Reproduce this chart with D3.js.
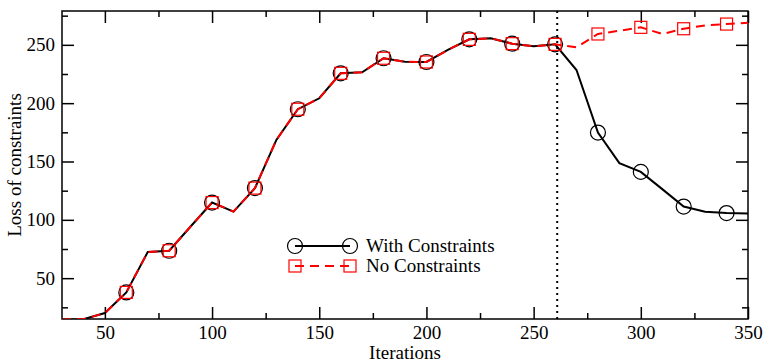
<!DOCTYPE html>
<html>
<head>
<meta charset="utf-8">
<script src="https://cdn.jsdelivr.net/npm/d3@7"></script>
<style>
  body { margin: 0; background: #fff; }
  text { font-family: "Liberation Serif", "Times New Roman", serif; }
</style>
</head>
<body>
<div id="chart"></div>
<script>
const iterations = [30, 40, 50, 60, 70, 80, 90, 100, 110, 120, 130, 140, 150, 160, 170, 180, 190, 200,
  210, 220, 230, 240, 250, 260, 270, 280, 290, 300, 310, 320, 330, 340, 350];
const withConstraints = [14.6, 14.8, 20.1, 37.8, 72.4, 73.5, 94.3, 114.8, 107.1, 127.2, 168.5, 194.8, 204.2,
  225.6, 226.5, 238.5, 235.5, 235.3, 245.6, 254.7, 255.6, 251, 248.7, 250.4, 228.4, 174.8, 148.6, 141.1,
  126.3, 111.4, 106.9, 105.8, 105.4];
const noConstraints = [14.6, 14.8, 20.1, 37.8, 72.4, 73.5, 94.3, 114.8, 107.1, 127.2, 168.5, 194.8, 204.2,
  225.6, 226.5, 238.5, 235.5, 235.3, 245.6, 254.7, 255.6, 251, 248.7, 250.4, 247.9, 259.3, 262.1, 265,
  259.3, 263.8, 266.7, 267.8, 269];
const seriesNames = ['With Constraints', 'No Constraints'];
const xTicks = [50, 100, 150, 200, 250, 300, 350];
const xMinorTicks = [75, 125, 175, 225, 275, 325];
const yTicks = [50, 100, 150, 200, 250];
const yMinorTicks = [25, 75, 125, 175, 225, 275];
const markerStep = 20;
const switchIteration = 261;

const containerWidth = 765, containerHeight = 363;
const margin = { top: 11, right: 17, bottom: 44, left: 62 };
const width = containerWidth - margin.left - margin.right;
const height = containerHeight - margin.top - margin.bottom;
const fontSize = 19;

const svg = d3.select('#chart').append('svg')
  .attr('width', containerWidth)
  .attr('height', containerHeight);

const chart = svg.append('g').attr('transform', `translate(${margin.left}, ${margin.top})`);

const xScale = d3.scaleLinear().domain([30, 350]).range([0, width]);
const yScale = d3.scaleLinear().domain([15, 279]).range([height, 0]);

chart.append('clipPath').attr('id', 'plot-clip')
  .append('rect').attr('width', width).attr('height', height);

// axes: ticks point inward on all four sides
function styleAxis(g) {
  g.select('.domain').remove();
  g.selectAll('line').attr('stroke', '#000').attr('stroke-width', 1.5);
  g.selectAll('text').attr('font-size', fontSize).attr('fill', '#000')
    .style('font-family', '"Liberation Serif", serif');
}

chart.append('g').attr('transform', `translate(0, ${height})`)
  .call(d3.axisBottom(xScale).tickValues(xTicks).tickSize(-12).tickPadding(7).tickFormat(d3.format('d')))
  .call(styleAxis);
chart.append('g').attr('transform', `translate(0, ${height})`)
  .call(d3.axisBottom(xScale).tickValues(xMinorTicks).tickSize(-6).tickFormat(''))
  .call(styleAxis);
chart.append('g')
  .call(d3.axisTop(xScale).tickValues(xTicks).tickSize(-12).tickFormat(''))
  .call(styleAxis);
chart.append('g')
  .call(d3.axisTop(xScale).tickValues(xMinorTicks).tickSize(-6).tickFormat(''))
  .call(styleAxis);

chart.append('g')
  .call(d3.axisLeft(yScale).tickValues(yTicks).tickSize(-12).tickPadding(7).tickFormat(d3.format('d')))
  .call(styleAxis);
chart.append('g')
  .call(d3.axisLeft(yScale).tickValues(yMinorTicks).tickSize(-6).tickFormat(''))
  .call(styleAxis);
chart.append('g').attr('transform', `translate(${width}, 0)`)
  .call(d3.axisRight(yScale).tickValues(yTicks).tickSize(-12).tickFormat(''))
  .call(styleAxis);
chart.append('g').attr('transform', `translate(${width}, 0)`)
  .call(d3.axisRight(yScale).tickValues(yMinorTicks).tickSize(-6).tickFormat(''))
  .call(styleAxis);

chart.append('rect')
  .attr('width', width).attr('height', height)
  .attr('fill', 'none').attr('stroke', '#000').attr('stroke-width', 1.5);

// vertical dotted marker where the constraints kick in
chart.append('line')
  .attr('x1', xScale(switchIteration)).attr('x2', xScale(switchIteration))
  .attr('y1', 0).attr('y2', height)
  .attr('stroke', '#000').attr('stroke-width', 2)
  .attr('stroke-dasharray', '2,4');

const series = [
  { name: seriesNames[0], values: withConstraints, color: '#000', dash: null, symbol: 'circle' },
  { name: seriesNames[1], values: noConstraints, color: '#ff0000', dash: '9,6', symbol: 'square' }
];

const line = d3.line()
  .x(d => xScale(d.x))
  .y(d => yScale(d.y));

const plot = chart.append('g').attr('clip-path', 'url(#plot-clip)');

function drawSymbol(g, s, cx, cy) {
  if (s.symbol === 'circle') {
    g.append('circle').attr('cx', cx).attr('cy', cy).attr('r', 7.5)
      .attr('fill', 'none').attr('stroke', s.color).attr('stroke-width', 1.2);
  } else {
    g.append('rect').attr('x', cx - 6).attr('y', cy - 6).attr('width', 12).attr('height', 12)
      .attr('fill', 'none').attr('stroke', s.color).attr('stroke-width', 1.2);
  }
}

series.forEach(s => {
  const pts = iterations.map((x, i) => ({ x: x, y: s.values[i] }));
  plot.append('path')
    .datum(pts)
    .attr('fill', 'none')
    .attr('stroke', s.color)
    .attr('stroke-width', 2)
    .attr('stroke-dasharray', s.dash)
    .attr('d', line);

  // symbols every 20 iterations, only where the point is inside the world
  const [yMin] = yScale.domain();
  pts.filter(d => d.x % markerStep === 0 && d.y >= yMin)
    .forEach(d => drawSymbol(chart, s, xScale(d.x), yScale(d.y)));
});

// legend
const legend = svg.append('g');
series.forEach((s, i) => {
  const y = 246 + i * 20;
  legend.append('line')
    .attr('x1', 295).attr('x2', 350).attr('y1', y).attr('y2', y)
    .attr('stroke', s.color).attr('stroke-width', 2)
    .attr('stroke-dasharray', s.dash);
  drawSymbol(legend, s, 295, y);
  drawSymbol(legend, s, 350, y);
  legend.append('text')
    .attr('x', 366).attr('y', y + 6)
    .attr('font-size', fontSize)
    .text(s.name);
});

// axis titles
svg.append('text')
  .attr('x', margin.left + width / 2)
  .attr('y', 359)
  .attr('text-anchor', 'middle')
  .attr('font-size', fontSize)
  .text('Iterations');

svg.append('text')
  .attr('transform', `translate(21, ${margin.top + height / 2}) rotate(-90)`)
  .attr('text-anchor', 'middle')
  .attr('font-size', fontSize)
  .text('Loss of constraints');
</script>
</body>
</html>
